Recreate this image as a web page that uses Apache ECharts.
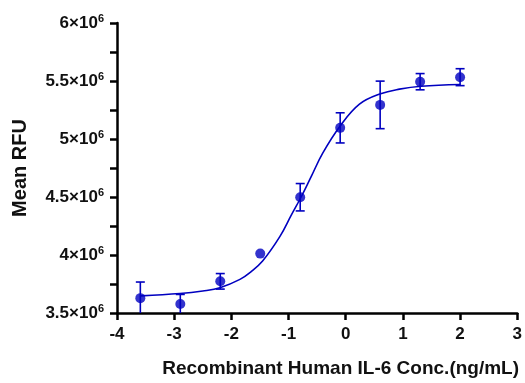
<!DOCTYPE html>
<html>
<head>
<meta charset="utf-8">
<script src="https://cdn.jsdelivr.net/npm/echarts@6/dist/echarts.min.js"></script>
<style>
  html, body { margin: 0; padding: 0; background: #fff; }
  #chart { width: 525px; height: 383px; }
</style>
</head>
<body>
<div id="chart"></div>
<script>
// log10 concentration of each point (ng/mL)
var logConc = [-3.592, -2.893, -2.194, -1.495, -0.796, -0.097, 0.602, 1.301, 2.0];
var meanRfu = [3628000, 3577000, 3773000, 4012000, 4498000, 5096000, 5294000, 5494000, 5533000];
var sdRfu = [139000, 83000, 67000, 0, 118000, 130000, 205000, 70000, 73000];

// fitted curve
var fitX = [-3.58, -2.9, -2.5, -2.2, -1.85, -1.65, -1.45, -1.15, -0.95, -0.78, -0.6, -0.4, -0.1, 0.24, 0.61, 0.94, 1.32, 2.0];
var fitY = [3648000, 3668000, 3690000, 3718000, 3790000, 3858000, 3950000, 4160000, 4345000, 4500000, 4680000, 4880000, 5110000, 5300000, 5390000, 5430000, 5455000, 5470000];

var xTicks = [-4, -3, -2, -1, 0, 1, 2, 3];
var yTicks = [3500000, 4000000, 4500000, 5000000, 5500000, 6000000];

var blue = '#0000c0';
var font = '"Liberation Sans", Arial, sans-serif';

var pts = logConc.map(function (x, i) { return [x, meanRfu[i]]; });
var errs = logConc.map(function (x, i) { return [x, meanRfu[i] - sdRfu[i], meanRfu[i] + sdRfu[i]]; });
var fit = fitX.map(function (x, i) { return [x, fitY[i]]; });

var mychart = echarts.init(document.getElementById('chart'));
var option = {
  animation: false,
  grid: { left: 117, right: 7, top: 23, bottom: 67 },
  xAxis: {
    type: 'value',
    min: xTicks[0],
    max: xTicks[xTicks.length - 1],
    interval: 1,
    name: 'Recombinant Human IL-6 Conc.(ng/mL)',
    nameLocation: 'middle',
    nameGap: 46,
    nameTextStyle: { fontFamily: font, fontWeight: 'bold', fontSize: 19, color: '#111', padding: [0, 0, 0, 47] },
    axisLine: { onZero: false, lineStyle: { color: '#000', width: 2.5 } },
    axisTick: { length: 7, lineStyle: { color: '#000', width: 2.5 } },
    axisLabel: { margin: 13, fontFamily: font, fontWeight: 'bold', fontSize: 17, color: '#111' },
    splitLine: { show: false }
  },
  yAxis: {
    type: 'value',
    min: yTicks[0],
    max: yTicks[yTicks.length - 1],
    interval: 500000,
    name: 'Mean RFU',
    nameLocation: 'middle',
    nameGap: 87,
    nameTextStyle: { fontFamily: font, fontWeight: 'bold', fontSize: 20, color: '#111' },
    axisLine: { onZero: false, lineStyle: { color: '#000', width: 2.5 } },
    axisTick: { length: 7, lineStyle: { color: '#000', width: 2.5 } },
    minorTick: { show: true, splitNumber: 2, length: 7, lineStyle: { color: '#000', width: 2.5 } },
    axisLabel: {
      margin: 13,
      formatter: function (v) {
        return '{b|' + (v / 1e6) + '×10}{s|6}';
      },
      rich: {
        b: { fontFamily: font, fontWeight: 'bold', fontSize: 17, color: '#111', lineHeight: 20 },
        s: { fontFamily: font, fontWeight: 'bold', fontSize: 11, color: '#111', verticalAlign: 'top' }
      }
    },
    splitLine: { show: false }
  },
  series: [
    {
      type: 'line',
      data: fit,
      smooth: 0.4,
      showSymbol: false,
      lineStyle: { color: blue, width: 1.6 },
      z: 2
    },
    {
      type: 'custom',
      data: errs,
      clip: true,
      renderItem: function (params, api) {
        var x = api.value(0);
        var lo = api.coord([x, api.value(1)]);
        var hi = api.coord([x, api.value(2)]);
        if (hi[1] === lo[1]) return;
        var w = 4.5;
        var st = { stroke: blue, lineWidth: 1.6 };
        return {
          type: 'group',
          children: [
            { type: 'line', shape: { x1: lo[0], y1: lo[1], x2: hi[0], y2: hi[1] }, style: st },
            { type: 'line', shape: { x1: hi[0] - w, y1: hi[1], x2: hi[0] + w, y2: hi[1] }, style: st },
            { type: 'line', shape: { x1: lo[0] - w, y1: lo[1], x2: lo[0] + w, y2: lo[1] }, style: st }
          ]
        };
      },
      z: 3
    },
    {
      type: 'scatter',
      data: pts,
      symbol: 'circle',
      symbolSize: 10,
      itemStyle: { color: blue },
      z: 4
    }
  ]
};
mychart.setOption(option);
</script>
</body>
</html>
